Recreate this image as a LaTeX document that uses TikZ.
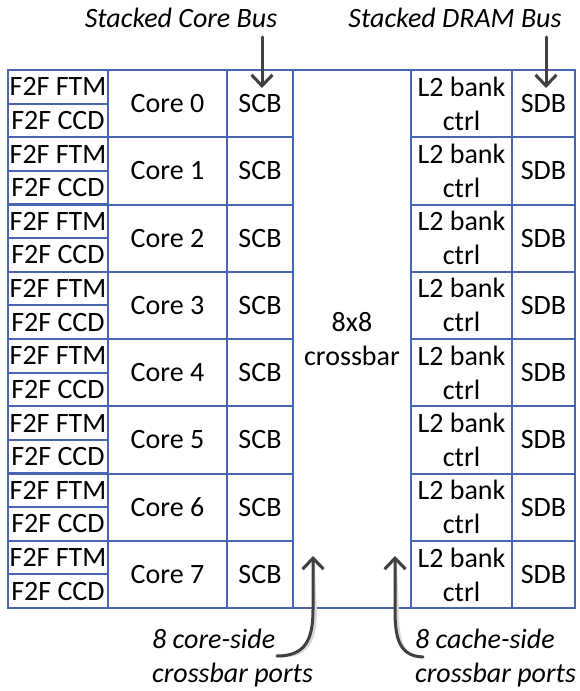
\documentclass[tikz,border=0pt]{standalone}
\usepackage{fontspec}
\setmainfont{Carlito}
\usetikzlibrary{arrows.meta,positioning}
\definecolor{gridblue}{HTML}{4A64B4}
\definecolor{arrowgray}{HTML}{404040}

\begin{document}
\begin{tikzpicture}[
x=1pt,y=-1pt,
font=\fontsize{28}{34}\selectfont,
cell/.style={draw=gridblue,line width=2pt,inner sep=0pt,minimum height=67.25pt,align=center},
halfcell/.style={draw=gridblue,line width=2pt,inner sep=0pt,minimum width=100pt,minimum height=33.6pt},
busarrow/.style={-{Straight Barb[length=11pt,width=21pt]},line width=3pt,arrowgray,line cap=round},
busshade/.style={busarrow,gray!30,shift={(2.5,1.5)}},
note/.style={inner sep=0pt,font=\fontsize{28}{34}\selectfont\itshape},
scale=1]
    % Fix the page
    \useasboundingbox (0,0) rectangle (579,691);

    % Draw the eight rows
    \foreach \i in {0,...,7}{
        \pgfmathsetmacro\yc{70+67.25*(\i+0.5)}
        \node[halfcell] (ftm\i) at (58,\yc-16.8) {F2F FTM};
        \node[halfcell] (ccd\i) at (58,\yc+16.8) {F2F CCD};
        \node[cell,minimum width=119pt] (core\i) at (167.5,\yc) {Core \i};
        \node[cell,minimum width=66pt] (scb\i) at (260,\yc) {SCB};
        \node[cell,minimum width=101pt] (l2\i) at (461.5,\yc) {L2 bank\\ctrl};
        \node[cell,minimum width=63pt] (sdb\i) at (543.5,\yc) {SDB};
    }
    \node[cell,minimum width=118pt,minimum height=538pt] (xbar) at (352,339) {8x8\\crossbar};

    % Labels
    \node[note,anchor=base] (corebus) at (181,27) {Stacked Core Bus};
    \node[note,anchor=base] (drambus) at (455,27) {Stacked DRAM Bus};
    \node[note,anchor=north west,align=left] (coreports) at (152,629) {8 core-side\\crossbar ports};
    \node[note,anchor=north west,align=left] (cacheports) at (415,629) {8 cache-side\\crossbar ports};

    \coordinate (cb0) at (262,37);  \coordinate (cb1) at (262,88);
    \coordinate (db0) at (546,37);  \coordinate (db1) at (546,88);
    \coordinate (cp0) at (277,656); \coordinate (cp1) at (313,556);
    \coordinate (kp0) at (423,657); \coordinate (kp1) at (395,556);

    % Arrows with a soft shade
    \foreach \s in {busshade,busarrow}{
        \draw[\s] (cb0) -- (cb1);
        \draw[\s] (db0) -- (db1);
        \draw[\s] (cp0) .. controls (305,656) and (313,640) .. (313,610) -- (cp1);
        \draw[\s] (kp0) .. controls (400,656) and (395,640) .. (395,610) -- (kp1);
    }

\end{tikzpicture}
\end{document}
